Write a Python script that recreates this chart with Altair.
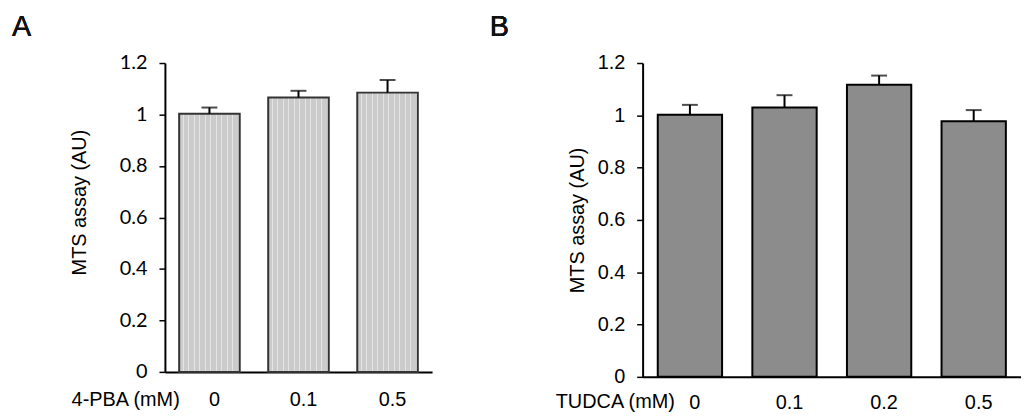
import altair as alt
import pandas as pd

# Panel A data
a_cats = ["0", "0.1", "0.5"]
a_means = [1.003, 1.066, 1.085]
a_errs = [0.024, 0.026, 0.049]

# Panel B data
b_cats = ["0", "0.1", "0.2", "0.5"]
b_means = [1.002, 1.030, 1.117, 0.977]
b_errs = [0.038, 0.047, 0.035, 0.043]

y_ticks = [0, 0.2, 0.4, 0.6, 0.8, 1, 1.2]

dfa = pd.DataFrame({"cat": a_cats, "mean": a_means, "err": a_errs})
dfa["top"] = dfa["mean"] + dfa["err"]
dfb = pd.DataFrame({"cat": b_cats, "mean": b_means, "err": b_errs})
dfb["top"] = dfb["mean"] + dfb["err"]

ARIAL = "Liberation Sans"
FS = 20

# light vertical stripe texture for panel A bars (style only)
stops = []
base_col, light_col = "#cbcbcb", "#e4e4e4"
n = 11
for i in range(n):
    o = i / n
    stops += [alt.GradientStop(offset=o, color=base_col),
              alt.GradientStop(offset=o + 0.6 / n, color=base_col),
              alt.GradientStop(offset=o + 0.65 / n, color=light_col),
              alt.GradientStop(offset=o + 0.8 / n, color=light_col),
              alt.GradientStop(offset=o + 0.85 / n, color=base_col)]
stripe_fill = alt.LinearGradient(gradient="linear", stops=stops, x1=0, x2=1, y1=0, y2=0)


def panel(df, cats, fill, stroke, xtitle, letter, w, h, ytitle_x, ytitle_y,
          xtitle_x, xtitle_y, xlab_pad, ylab_font, anchor):
    xenc = alt.X("cat:N", sort=cats, scale=alt.Scale(paddingInner=0.32, paddingOuter=0.16),
                 axis=alt.Axis(title=xtitle, labelAngle=0, ticks=False, domainColor="black",
                               domainWidth=2, labelFont=ARIAL, labelFontSize=FS,
                               labelColor="black", labelPadding=xlab_pad, labelOffset=5,
                               titleFont=ARIAL, titleFontSize=FS, titleFontWeight="normal",
                               titleColor="black", titleX=xtitle_x, titleY=xtitle_y,
                               titleAlign="center", titleBaseline="middle"))
    yscale = alt.Scale(domain=[0, 1.2], nice=False)
    yenc = alt.Y("mean:Q", scale=yscale,
                 axis=alt.Axis(title="MTS assay (AU)", values=y_ticks, format="~g", grid=False,
                               domainColor="black", domainWidth=2, tickColor="black",
                               tickWidth=1.5, tickSize=6, labelPadding=12,
                               labelFont=ylab_font, labelFontSize=FS, labelColor="black",
                               titleFont=ARIAL, titleFontSize=FS, titleFontWeight="normal",
                               titleColor="black", titleX=ytitle_x, titleY=ytitle_y,
                               titleAlign="center", titleBaseline="middle", titleAngle=270))
    base = alt.Chart(df)
    bars = base.mark_bar(fill=fill, stroke=stroke, strokeWidth=2).encode(x=xenc, y=yenc)
    rule = base.mark_rule(color="black", strokeWidth=2).encode(
        x=alt.X("cat:N", sort=cats), y=alt.Y("mean:Q", scale=yscale), y2="top:Q")
    cap = base.mark_tick(color="black", size=16, thickness=2, orient="horizontal").encode(
        x=alt.X("cat:N", sort=cats), y=alt.Y("top:Q", scale=yscale))
    lettr = base.mark_text(text=letter, font=ARIAL, fontSize=29, fontWeight="normal",
                           align="left", baseline="alphabetic", color="#111111").encode(
        x=alt.value(-154), y=alt.value(-27))
    layers = [bars, rule, cap, lettr]
    if anchor:
        anch = base.mark_rule(opacity=0, strokeOpacity=0).encode(
            x=alt.value(-158), x2=alt.value(-150), y=alt.value(-54))
        layers.append(anch)
    return alt.layer(*layers).properties(width=w, height=h)


pa = panel(dfa, a_cats, stripe_fill, "#333333", "4-PBA (mM)", "A", 269, 311,
           -86, 140, -40, 28, 18, "Lato", True)
pb = panel(dfb, b_cats, "#8c8c8c", "black", "TUDCA (mM)", "B", 381, 316,
           -66, 158, -28, 25, 16, ARIAL, False)

chart = alt.hconcat(pa, pb, spacing=212, bounds="flush").properties(
    padding=0
).configure_view(stroke=None).configure_concat(spacing=212)

chart.save("out.html", embed_options={"renderer": "svg", "actions": False})
